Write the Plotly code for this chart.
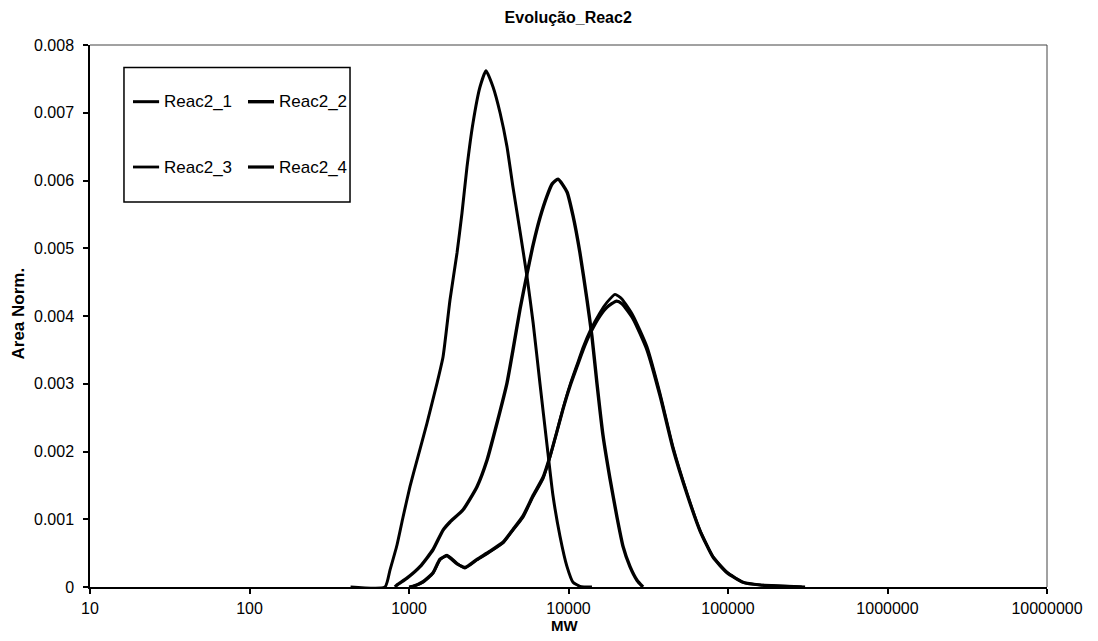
import plotly.graph_objects as go

# ---- data ----
mw_1 = [430, 707, 760, 841, 917, 1014, 1122, 1297, 1499, 1635, 1808, 2000, 2149, 2310, 2519, 2786, 3040,
        3365, 3723, 4114, 4487, 4966, 5495, 6000, 6625, 7330, 7993, 8844, 9787, 10670, 11800, 14030]
area_1 = [0, 0, 0.00025, 0.00062, 0.00103, 0.00148, 0.00187, 0.00242, 0.00301, 0.00340, 0.00424, 0.00493,
          0.00552, 0.00620, 0.00685, 0.00738, 0.00762, 0.00738, 0.00700, 0.00650, 0.00590, 0.00525, 0.00458,
          0.00390, 0.00300, 0.00210, 0.00135, 0.00075, 0.00030, 0.00007, 0.00001, 0]

mw_2 = [817, 841, 971, 1172, 1413, 1635, 1808, 2183, 2669, 3083, 3563, 4114, 4487, 4966, 5495, 6000, 6625,
        7330, 7900, 8596, 9787, 10670, 11800, 13060, 14030, 15090, 16450, 18200, 20140, 21970, 24300, 26870, 29310]
area_2 = [0, 0.00003, 0.00013, 0.00030, 0.00055, 0.00084, 0.00096, 0.00114, 0.00148, 0.00187, 0.00242, 0.00301,
          0.00350, 0.00410, 0.00462, 0.00505, 0.00545, 0.00577, 0.00595, 0.00602, 0.00583, 0.00548, 0.00493,
          0.00424, 0.00370, 0.00300, 0.00224, 0.00160, 0.00103, 0.00060, 0.00030, 0.00010, 0]

mw_3 = [1014, 1059, 1224, 1413, 1564, 1730, 2000, 2244, 2669, 3221, 3882, 4487, 5187, 5988, 6924, 7660, 8474,
        9250, 10210, 11300, 12400, 13650, 15740, 17420, 19580, 21630, 25360, 31040, 37480, 45200, 55330, 66710,
        80500, 98550, 124200, 158800, 304300]
area_3 = [0, 0.00001, 0.00007, 0.00020, 0.00040, 0.00047, 0.00035, 0.00028, 0.00040, 0.00052, 0.00065, 0.00084,
          0.00103, 0.00133, 0.00160, 0.00192, 0.00230, 0.00264, 0.00298, 0.00328, 0.00355, 0.00378, 0.00405,
          0.00420, 0.00432, 0.00425, 0.00401, 0.00355, 0.00286, 0.00207, 0.00139, 0.00084, 0.00045, 0.00022,
          0.00007, 0.00003, 0]

mw_4 = [1000, 1059, 1224, 1413, 1564, 1730, 2000, 2244, 2669, 3221, 3882, 4487, 5187, 5988, 6924, 7660, 8474,
        9250, 10210, 11300, 12400, 13650, 15740, 17420, 20000, 21630, 25360, 31040, 37480, 45200, 55330, 66710,
        80500, 98550, 124200, 158800, 290000]
area_4 = [0, 0.00001, 0.00008, 0.00021, 0.00041, 0.00046, 0.00034, 0.00029, 0.00041, 0.00053, 0.00066, 0.00085,
          0.00105, 0.00135, 0.00162, 0.00193, 0.00230, 0.00263, 0.00296, 0.00325, 0.00351, 0.00374, 0.00400,
          0.00413, 0.00422, 0.00418, 0.00396, 0.00350, 0.00282, 0.00204, 0.00137, 0.00083, 0.00044, 0.00021,
          0.00007, 0.00003, 0]

series_names = ["Reac2_1", "Reac2_2", "Reac2_3", "Reac2_4"]
series_x = [mw_1, mw_2, mw_3, mw_4]
series_y = [area_1, area_2, area_3, area_4]
line_widths = [3, 3.4, 2.8, 3.2]

x_tick_vals = [10, 100, 1000, 10000, 100000, 1000000, 10000000]
x_tick_text = ["10", "100", "1000", "10000", "100000", "1000000", "10000000"]
y_tick_vals = [0, 0.001, 0.002, 0.003, 0.004, 0.005, 0.006, 0.007, 0.008]
y_tick_text = ["0", "0.001", "0.002", "0.003", "0.004", "0.005", "0.006", "0.007", "0.008"]

FONT = "Arial, Liberation Sans, sans-serif"

fig = go.Figure()
for name, xs, ys, w in zip(series_names, series_x, series_y, line_widths):
    fig.add_trace(go.Scatter(x=xs, y=ys, mode="lines", name=name,
                             line=dict(color="black", width=w, shape="spline", smoothing=0.5),
                             showlegend=False))

# frame (top / right thin lines) and manual 2x2 legend box
shapes = [
    dict(type="line", xref="paper", yref="paper", x0=0, x1=1, y0=1, y1=1, line=dict(color="#444", width=1)),
    dict(type="line", xref="paper", yref="paper", x0=1, x1=1, y0=0, y1=1, line=dict(color="#444", width=1)),
    dict(type="rect", xref="paper", yref="paper", x0=0.0355, x1=0.2717, y0=0.7103, y1=0.9585,
         line=dict(color="black", width=1.5), fillcolor="white", layer="above"),
]
annotations = []
leg_cols = [(0.0449, 0.0722, 0.0752), (0.1651, 0.1923, 0.1954)]
leg_rows = [0.8954, 0.7749]
for i, name in enumerate(series_names):
    cx0, cx1, tx = leg_cols[i % 2]
    ry = leg_rows[i // 2]
    shapes.append(dict(type="line", xref="paper", yref="paper", x0=cx0, x1=cx1, y0=ry, y1=ry,
                       line=dict(color="black", width=line_widths[i]), layer="above"))
    annotations.append(dict(text=name, xref="paper", yref="paper", x=tx, y=ry, xanchor="left",
                            yanchor="middle", showarrow=False, font=dict(family=FONT, size=17, color="black")))

annotations.append(dict(text="<b>Area Norm.</b>", xref="paper", yref="paper", x=-0.0747, y=0.5037,
                        textangle=-90, showarrow=False, xanchor="center", yanchor="middle",
                        font=dict(family=FONT, size=17, color="black")))
annotations.append(dict(text="<b>MW</b>", xref="paper", yref="paper", x=0.4963, y=-0.071,
                        showarrow=False, xanchor="center", yanchor="middle",
                        font=dict(family=FONT, size=15, color="black")))

fig.update_layout(
    width=1098, height=641,
    margin=dict(l=90, r=51, t=45, b=54),
    paper_bgcolor="white", plot_bgcolor="white",
    title=dict(text="<b>Evolução_Reac2</b>", x=0.5175, xanchor="center", y=0.973, yanchor="middle",
               font=dict(family=FONT, size=16, color="black")),
    font=dict(family=FONT, size=17, color="black"),
    shapes=shapes, annotations=annotations,
    xaxis=dict(type="log", range=[1, 7], tickvals=x_tick_vals, ticktext=x_tick_text,
               showgrid=False, zeroline=False, ticks="outside", ticklen=5, tickcolor="black", tickwidth=1.5,
               showline=True, linecolor="black", linewidth=1.5, ticklabelstandoff=1,
               tickfont=dict(family=FONT, size=16, color="black")),
    yaxis=dict(range=[0, 0.008], tickvals=y_tick_vals, ticktext=y_tick_text,
               showgrid=False, zeroline=False, ticks="outside", ticklen=5, tickcolor="black", tickwidth=1.5,
               showline=True, linecolor="black", linewidth=1.5, ticklabelstandoff=6,
               tickfont=dict(family=FONT, size=16, color="black")),
)

fig.write_html("out.html")
